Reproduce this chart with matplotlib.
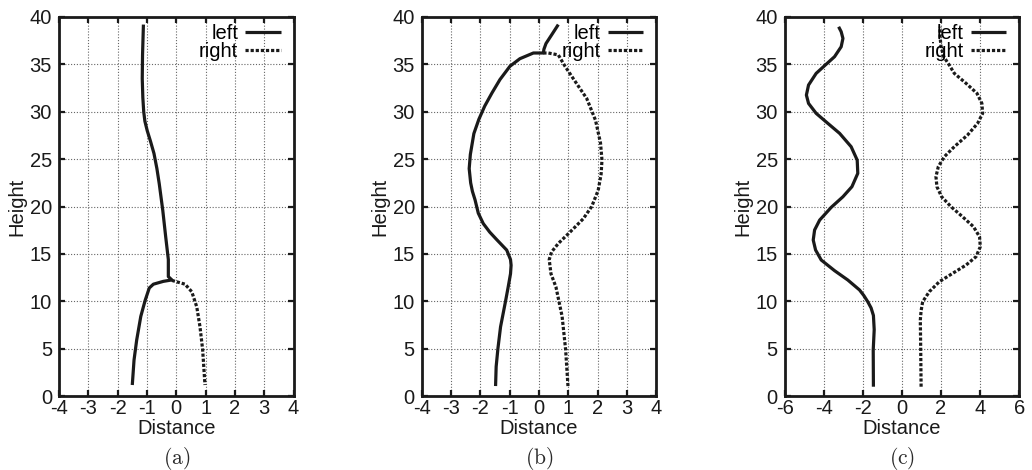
import matplotlib
matplotlib.use('Agg')
import matplotlib.pyplot as plt

plt.rcParams['font.family'] = ['Liberation Sans', 'DejaVu Sans']
plt.rcParams['font.size'] = 14.5
plt.rcParams['mathtext.fontset'] = 'cm'
plt.rcParams['axes.unicode_minus'] = False

# (a) wall profiles
a_left_x = [-1.50, -1.44, -1.35, -1.21, -1.06, -0.92, -0.78, -0.44, -0.15, -0.27, -0.27,
            -0.36, -0.46, -0.58, -0.66, -0.76, -0.88, -0.99, -1.07, -1.11, -1.14, -1.16,
            -1.15, -1.12]
a_left_y = [1.16, 3.8, 5.9, 8.4, 10.1, 11.4, 11.8, 12.1, 12.25, 12.6, 14.4,
            16.8, 19.6, 22.4, 24.0, 25.6, 26.9, 28.0, 29.0, 30.0, 31.5, 33.5,
            36.0, 39.2]
a_right_x = [-0.15, 0.30, 0.53, 0.70, 0.81, 0.90, 0.98]
a_right_y = [12.2, 11.8, 11.0, 9.4, 7.3, 4.9, 1.16]

# (b)
b_left_x = [-1.48, -1.46, -1.40, -1.31, -1.14, -1.05, -0.97, -0.95, -0.97, -1.10, -1.44,
            -1.68, -1.90, -2.07, -2.18, -2.27, -2.33, -2.38, -2.34, -2.22, -2.05, -1.85,
            -1.60, -1.33, -0.99, -0.65, -0.19, 0.15, 0.17, 0.24, 0.43, 0.66]
b_left_y = [1.05, 3.1, 5.0, 7.3, 10.0, 11.5, 12.9, 13.8, 14.4, 15.4, 16.5,
            17.3, 18.2, 19.3, 20.7, 21.6, 22.5, 24.0, 25.5, 27.7, 29.2, 30.6,
            32.0, 33.4, 34.8, 35.6, 36.2, 36.2, 36.6, 37.2, 38.1, 39.2]
b_right_x = [0.15, 0.32, 0.66, 0.89, 1.17, 1.63, 1.93, 2.10, 2.15, 2.12, 2.02, 1.80,
             1.51, 1.06, 0.66, 0.43, 0.35, 0.41, 0.58, 0.79, 0.91, 0.99]
b_right_y = [36.2, 36.2, 36.0, 34.8, 33.5, 31.4, 29.1, 26.7, 24.9, 23.4, 21.7, 20.0,
             18.7, 17.3, 16.1, 15.2, 14.4, 12.9, 11.5, 8.4, 4.9, 1.05]

# (c)
c_left_x = [-1.46, -1.47, -1.42, -1.46, -1.58, -1.75, -1.95, -2.17, -2.77, -3.45, -4.13,
            -4.42, -4.54, -4.47, -4.21, -3.62, -3.02, -2.56, -2.26, -2.29, -2.60, -3.19,
            -3.79, -4.39, -4.78, -4.89, -4.78, -4.39, -3.96, -3.45, -3.11, -3.02, -3.11,
            -3.24]
c_left_y = [0.98, 4.85, 7.0, 8.5, 9.3, 9.95, 10.6, 11.19, 12.24, 13.23, 14.35,
            15.41, 16.46, 17.52, 18.57, 19.91, 21.03, 22.09, 23.50, 24.90, 26.31, 27.72,
            28.77, 29.83, 30.88, 31.76, 32.82, 34.05, 34.86, 35.81, 36.86, 37.74, 38.45,
            38.97]
c_right_x = [0.98, 0.96, 0.94, 0.98, 1.06, 1.40, 1.91, 2.59, 3.28, 3.79, 4.01, 3.97,
             3.66, 3.10, 2.51, 2.03, 1.79, 1.74, 1.86, 2.17, 2.68, 3.36, 3.87, 4.13,
             4.09, 3.84, 3.28, 2.68, 2.42, 2.14, 2.00, 1.95, 1.95]
c_right_y = [0.98, 4.85, 8.02, 9.0, 9.95, 11.01, 12.06, 12.94, 13.82, 14.70, 15.76,
             16.81, 17.87, 18.92, 19.98, 21.03, 22.09, 23.15, 24.20, 25.26, 26.31, 27.55,
             28.77, 29.83, 30.88, 31.94, 33.00, 34.05, 34.93, 35.81, 36.86, 37.92, 38.97]

x_ticks_ab = [-4, -3, -2, -1, 0, 1, 2, 3, 4]
x_ticks_c = [-6, -4, -2, 0, 2, 4, 6]
y_ticks = [0, 5, 10, 15, 20, 25, 30, 35, 40]
captions = ['(a)', '(b)', '(c)']

panels = [
    (a_left_x, a_left_y, a_right_x, a_right_y, x_ticks_ab),
    (b_left_x, b_left_y, b_right_x, b_right_y, x_ticks_ab),
    (c_left_x, c_left_y, c_right_x, c_right_y, x_ticks_c),
]
lefts = [59 / 1032, 421.7 / 1032, 784.7 / 1032]
w = 234.5 / 1032
bottom = (470 - 396) / 470
h = 379 / 470
ink = '#1a1a1a'

fig = plt.figure(figsize=(10.32, 4.70), dpi=100)
for i, (lx, ly, rx, ry, xt) in enumerate(panels):
    ax = fig.add_axes([lefts[i], bottom, w, h])
    ax.plot(lx, ly, color=ink, lw=2.3, label='left',
            solid_joinstyle='round', solid_capstyle='butt')
    ax.plot(rx, ry, color=ink, lw=2.3, linestyle=(0, (1, 0.6)),
            dash_capstyle='butt', label='right')
    ax.set_xlim(xt[0], xt[-1])
    ax.set_ylim(0, 40)
    ax.set_xticks(xt)
    ax.set_yticks(y_ticks)
    ax.set_axisbelow(True)
    ax.grid(True, color='#666666', linestyle=(0, (1, 1.6)), linewidth=0.8)
    for s in ax.spines.values():
        s.set_linewidth(2.0)
        s.set_color(ink)
    ax.tick_params(direction='in', length=4, width=1.6, top=True, right=True,
                   color=ink, labelcolor=ink)
    ax.tick_params(axis='x', pad=2)
    ax.tick_params(axis='y', pad=5)
    ax.set_xlabel('Distance', color=ink, va='center')
    ax.set_ylabel('Height', color=ink, va='center')
    ax.yaxis.set_label_coords(-0.178, 0.5)
    ax.xaxis.set_label_coords(0.5, -0.085)
    ax.legend(loc='upper right', frameon=False, markerfirst=False,
              handlelength=1.75, handletextpad=0.35, labelspacing=-0.05,
              borderpad=0, borderaxespad=0,
              bbox_to_anchor=(1 - 13 / 234.5, 1 - 7 / 379))
    fig.text(lefts[i] + w / 2, 12 / 470, r'$\mathrm{' + captions[i] + '}$',
             ha='center', va='center', fontsize=15.5, color='#2a2a2a')

fig.savefig('out.png', dpi=100)
